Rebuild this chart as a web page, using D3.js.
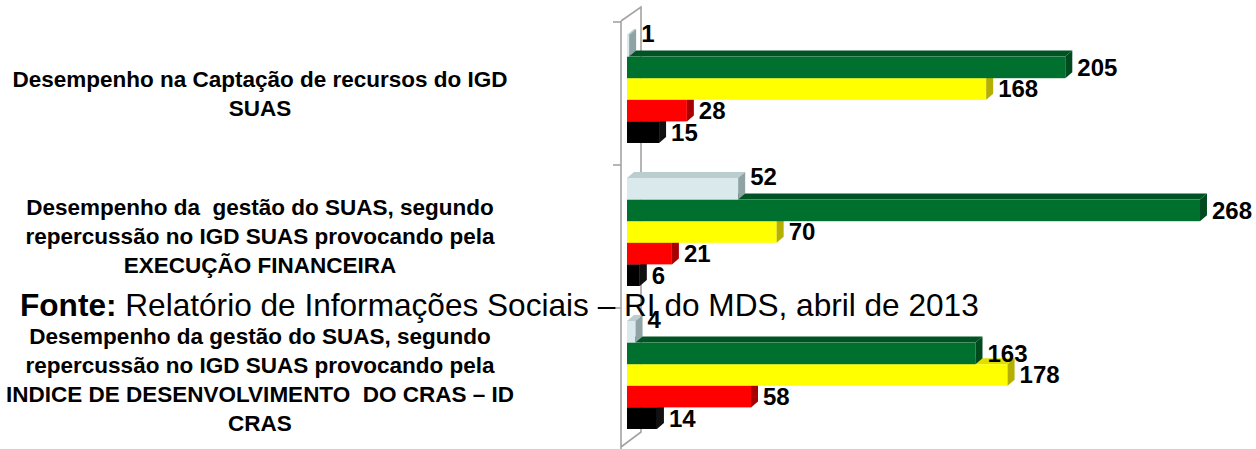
<!DOCTYPE html>
<html>
<head>
<meta charset="utf-8">
<script src="https://cdn.jsdelivr.net/npm/d3@7"></script>
<style>
  body { margin: 0; background: #fff; }
  text { font-family: "Liberation Sans", Arial, sans-serif; }
</style>
</head>
<body>
<div id="chart"></div>
<script>
// categories (each label split in its lines)
const categorias = [
  ["Desempenho na Captação de recursos do IGD", "SUAS"],
  ["Desempenho da  gestão do SUAS, segundo", "repercussão no IGD SUAS provocando pela", "EXECUÇÃO FINANCEIRA"],
  ["Desempenho da gestão do SUAS, segundo", "repercussão no IGD SUAS provocando pela", "INDICE DE DESENVOLVIMENTO  DO CRAS – ID", "CRAS"]
];

// series values, one per category
const cinza = [1, 52, 4];
const verde = [205, 268, 163];
const amarelo = [168, 70, 178];
const vermelho = [28, 21, 58];
const preto = [15, 6, 14];

const fonte = "Fonte:";
const fonteTexto = " Relatório de Informações Sociais – RI do MDS, abril de 2013";

function drawChart() {
  const w = 1256;
  const h = 449;

  const series = [
    { values: cinza, front: "#dae9eb", top: "#bccdcf", side: "#8fa2a4" },
    { values: verde, front: "#00702f", top: "#005423", side: "#004a1f" },
    { values: amarelo, front: "#ffff00", top: "#e0e000", side: "#b5b000" },
    { values: vermelho, front: "#ff0000", top: "#c00000", side: "#a80000" },
    { values: preto, front: "#000000", top: "#1a1a1a", side: "#111111" }
  ];

  // 3D depth of bars
  const dx = 7;
  const dy = 6;

  const svg = d3
    .select("#chart")
    .append("svg")
    .attr("width", w)
    .attr("height", h);

  // scales
  const xScale = d3.scaleLinear().domain([0, 300]).range([627, 1268.4]);

  const yScale = d3
    .scaleBand()
    .domain(d3.range(categorias.length))
    .range([22, 451])
    .paddingInner(0.245)
    .paddingOuter(0.1225);

  const inner = d3
    .scaleBand()
    .domain(d3.range(series.length))
    .range([0, yScale.bandwidth()]);

  // wall / axis
  const wall = svg.append("g").attr("stroke", "#a3a3a3").attr("stroke-width", 1.6).attr("fill", "none");
  wall.append("path").attr("d", "M621,21 L621,449 M621,21 L641,7 L641,432 L621,447");
  const ticks = d3.range(categorias.length + 1).map((i) => 22 + i * yScale.step());
  wall
    .selectAll(".tick")
    .data(ticks)
    .enter()
    .append("line")
    .attr("x1", 613)
    .attr("x2", 621)
    .attr("y1", (d) => d)
    .attr("y2", (d) => d);

  // bars
  const shift = -4.5;
  categorias.forEach((cat, c) => {
    const g = svg.append("g").attr("transform", `translate(0, ${yScale(c) + shift})`);
    // draw bottom bar first so upper bars cover its top face
    for (let s = series.length - 1; s >= 0; s--) {
      const ser = series[s];
      const x0 = xScale(0);
      const x1 = xScale(ser.values[c]);
      const y0 = inner(s);
      const y1 = y0 + inner.bandwidth();
      g.append("path")
        .attr("d", `M${x0},${y0} L${x0 + dx},${y0 - dy} L${x1 + dx},${y0 - dy} L${x1},${y0} Z`)
        .attr("fill", ser.top);
      g.append("rect")
        .attr("x", x0)
        .attr("y", y0)
        .attr("width", x1 - x0)
        .attr("height", y1 - y0)
        .attr("fill", ser.front);
      g.append("path")
        .attr("d", `M${x1},${y0} L${x1 + dx},${y0 - dy} L${x1 + dx},${y1 - dy} L${x1},${y1} Z`)
        .attr("fill", ser.side);
    }
    // value labels
    series.forEach((ser, s) => {
      const cy = inner(s) + inner.bandwidth() / 2 + (s === 0 ? -12 : 0);
      g.append("text")
        .attr("x", xScale(ser.values[c]) + dx + 5)
        .attr("y", cy)
        .attr("dy", "0.35em")
        .style("font-size", "24px")
        .style("font-weight", "bold")
        .attr("fill", "#000")
        .text(ser.values[c]);
    });
  });

  // category labels
  const lineH = 29;
  categorias.forEach((lines, c) => {
    const cy = yScale(c) + yScale.bandwidth() / 2;
    const t = svg
      .append("text")
      .attr("text-anchor", "middle")
      .style("font-size", "22.5px")
      .style("font-weight", "bold")
      .attr("fill", "#000");
    lines.forEach((ln, i) => {
      t.append("tspan")
        .attr("x", 260)
        .attr("y", cy + (i - (lines.length - 1) / 2) * lineH)
        .attr("dy", "0.35em")
        .style("white-space", "pre")
        .text(ln);
    });
  });

  // source note drawn on top
  const f = svg
    .append("text")
    .attr("x", 20)
    .attr("y", 316)
    .style("font-size", "31.6px")
    .attr("fill", "#000")
    .style("white-space", "pre");
  f.append("tspan").style("font-weight", "bold").text(fonte);
  f.append("tspan").text(fonteTexto);
}

drawChart();
</script>
</body>
</html>
